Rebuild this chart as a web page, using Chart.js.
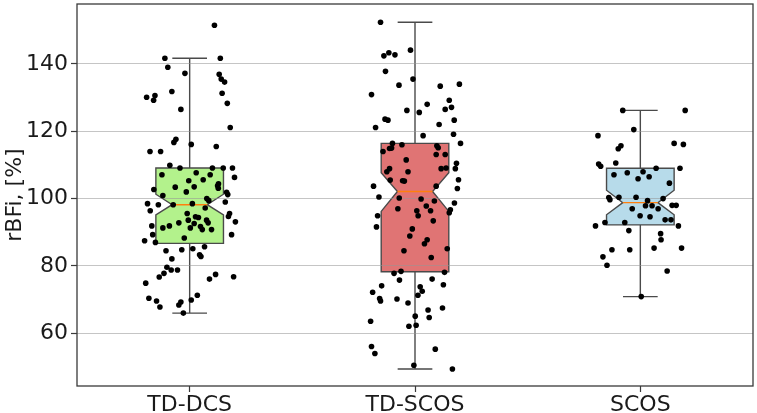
<!DOCTYPE html>
<html>
<head>
<meta charset="utf-8">
<script src="https://cdn.jsdelivr.net/npm/chart.js@4/dist/chart.umd.min.js"></script>
<style>
  html, body { margin: 0; padding: 0; background: #fff; }
</style>
</head>
<body>
<canvas id="boxChart" width="757" height="413"></canvas>
<script>
// categories and y ticks
const categories = ['TD-DCS', 'TD-SCOS', 'SCOS'];
const yTicks = [60, 80, 100, 120, 140];

// box statistics per category
const whiskerLow  = [66.0, 49.4, 70.9];
const quartile1   = [86.7, 78.3, 92.2];
const notchLow    = [95.2, 96.2, 95.2];
const medians     = [98.2, 102.1, 98.8];
const notchHigh   = [101.3, 107.7, 102.5];
const quartile3   = [109.1, 116.4, 109.0];
const whiskerHigh = [141.7, 152.4, 126.2];

// individual measurements (value + horizontal jitter around the category)
const dcsValues = [151.5, 141.7, 141.7, 139.0, 137.2, 136.9, 135.5, 134.6, 131.8, 131.3,
  130.6, 130.1, 129.2, 128.3, 126.5, 121.1, 117.6, 116.7, 116.1, 115.5,
  114.0, 114.0, 109.9, 109.1, 109.1, 109.1, 109.1, 107.1, 107.7, 107.1,
  106.3, 105.3, 105.6, 103.4, 103.5, 104.4, 103.8, 103.1, 102.7, 102.0,
  101.9, 101.2, 100.9, 100.0, 99.4, 99.0, 98.5, 98.2, 98.2, 98.5,
  97.2, 96.4, 95.6, 95.6, 94.7, 94.6, 94.4, 93.6, 93.6, 92.8,
  93.1, 92.8, 92.6, 91.9, 91.9, 91.3, 91.3, 91.7, 90.8, 90.8,
  89.3, 89.3, 88.3, 87.5, 87.0, 85.7, 84.8, 85.1, 84.5, 83.3,
  82.8, 82.1, 79.6, 78.8, 78.8, 77.8, 77.5, 76.7, 76.1, 76.8,
  74.9, 71.3, 70.4, 69.6, 69.9, 69.3, 68.4, 67.8, 66.0];
const dcsJitter = [0.110, -0.110, 0.136, -0.097, -0.021, 0.131, 0.140, 0.155, -0.079, 0.144,
  -0.154, -0.191, -0.160, 0.167, -0.039, 0.180, -0.061, -0.070, 0.007, 0.118,
  -0.176, -0.129, -0.088, -0.043, 0.101, 0.149, 0.190, -0.123, 0.029, 0.091,
  0.199, -0.004, 0.060, -0.064, 0.020, 0.128, 0.124, 0.127, -0.159, -0.015,
  0.164, 0.169, -0.119, 0.076, 0.085, 0.158, -0.187, -0.139, -0.073, 0.012,
  0.069, -0.175, -0.011, 0.177, 0.172, 0.026, 0.039, -0.006, 0.075, 0.082,
  0.203, -0.048, 0.020, -0.168, -0.090, -0.119, 0.003, 0.048, 0.056, 0.097,
  -0.164, 0.186, -0.024, -0.200, -0.152, 0.066, -0.035, 0.014, -0.105, 0.044,
  0.050, -0.079, -0.101, -0.082, -0.054, -0.114, 0.115, -0.135, 0.088, 0.195,
  -0.195, 0.034, -0.181, -0.147, 0.007, -0.039, -0.048, -0.132, -0.028];

const scosTdValues = [152.4, 142.4, 143.3, 142.7, 144.1, 137.8, 135.5, 133.7, 133.4, 134.0,
  130.9, 129.2, 128.0, 126.5, 127.1, 126.2, 125.6, 123.6, 123.3, 123.3,
  122.0, 121.1, 118.7, 119.1, 116.4, 116.4, 116.0, 114.9, 115.0, 114.0,
  115.7, 115.1, 113.1, 113.1, 111.5, 110.5, 108.9, 108.9, 109.1, 108.9,
  108.0, 108.0, 105.5, 105.3, 105.2, 105.6, 103.0, 103.7, 103.7, 100.5,
  100.2, 99.9, 99.3, 97.8, 96.4, 98.7, 96.7, 95.8, 97.0, 96.4,
  94.9, 94.9, 93.4, 91.6, 91.0, 88.9, 87.8, 86.6, 85.1, 84.5,
  82.5, 77.8, 78.4, 78.1, 75.8, 76.1, 74.1, 74.4, 72.2, 73.8,
  72.5, 71.3, 70.3, 69.6, 70.2, 69.0, 66.9, 67.5, 65.1, 64.7,
  63.6, 62.1, 62.4, 56.1, 54.0, 55.3, 50.5, 49.4];
const scosTdJitter = [-0.153, -0.138, -0.116, -0.089, -0.020, -0.131, -0.009, -0.071, 0.112, 0.197,
  -0.193, 0.152, 0.054, 0.134, 0.162, -0.036, 0.019, -0.133, -0.120, 0.174,
  0.107, -0.175, 0.036, 0.171, 0.202, -0.100, -0.058, -0.113, -0.104, -0.142,
  0.097, 0.103, 0.094, 0.134, -0.039, 0.184, 0.179, 0.116, 0.138, -0.113,
  -0.125, -0.031, -0.110, -0.055, -0.047, 0.193, 0.188, -0.184, 0.094, -0.160,
  -0.070, 0.027, 0.086, 0.050, 0.069, 0.175, 0.157, 0.152, -0.076, 0.008,
  0.014, -0.166, 0.081, -0.171, -0.012, -0.023, 0.054, 0.042, 0.143, -0.049,
  0.072, -0.093, -0.062, 0.131, -0.069, 0.076, -0.148, 0.126, -0.188, 0.023,
  0.032, 0.013, -0.157, -0.153, -0.080, -0.031, 0.058, 0.122, 0.001, 0.063,
  -0.197, -0.027, 0.005, -0.193, -0.178, 0.090, -0.005, 0.166];

const scosValues = [126.2, 126.2, 120.5, 118.7, 115.7, 114.8, 116.4, 116.1, 110.3, 109.6,
  110.6, 109.0, 109.0, 107.1, 107.7, 108.0, 106.5, 105.9, 104.6, 100.3,
  99.7, 100.4, 100.4, 100.0, 99.4, 97.9, 97.9, 97.0, 98.0, 98.0,
  97.0, 94.9, 94.6, 93.7, 93.7, 92.9, 92.9, 91.9, 91.9, 90.5,
  89.6, 87.8, 84.8, 84.8, 85.3, 85.3, 82.7, 80.2, 78.5, 70.9];
const scosJitter = [-0.078, 0.199, -0.029, -0.188, -0.086, -0.098, 0.150, 0.191, -0.185, -0.176,
  -0.109, 0.176, 0.070, -0.117, -0.058, 0.012, 0.039, -0.010, 0.129, -0.140,
  -0.135, -0.095, -0.019, 0.101, 0.032, 0.023, 0.052, 0.079, 0.141, 0.159,
  -0.036, -0.001, 0.043, 0.110, 0.136, -0.069, -0.157, -0.199, 0.169, -0.051,
  0.090, 0.092, -0.126, -0.047, 0.061, 0.183, -0.166, -0.148, 0.119, 0.004];

const groupValues = [dcsValues, scosTdValues, scosValues];
const groupJitter = [dcsJitter, scosTdJitter, scosJitter];

// styles
const boxFills = ['#b3f28c', '#e07474', '#b7dbea'];
const edgeColor = '#4a4a4a';
const medianColor = '#ff7f0e';
const boxHalf = 0.15;     // half box width in x units
const notchHalf = 0.078;  // half width at the notch waist
const capHalf = 0.077;
const fontFamily = '"DejaVu Sans", sans-serif';

// Boxes, notches and whiskers, drawn underneath the grid and points
const boxPlugin = {
  id: 'notchedBoxes',
  beforeDraw(chart) {
    const ctx = chart.ctx;
    const xs = chart.scales.x, ys = chart.scales.y;
    ctx.save();
    ctx.fillStyle = '#fff';
    ctx.fillRect(0, 0, chart.width, chart.height);
    categories.forEach((cat, i) => {
      const pos = i + 1;
      const xl = xs.getPixelForValue(pos - boxHalf);
      const xr = xs.getPixelForValue(pos + boxHalf);
      const nl = xs.getPixelForValue(pos - notchHalf);
      const nr = xs.getPixelForValue(pos + notchHalf);
      const xc = xs.getPixelForValue(pos);
      const yq1 = ys.getPixelForValue(quartile1[i]);
      const yq3 = ys.getPixelForValue(quartile3[i]);
      const ynl = ys.getPixelForValue(notchLow[i]);
      const ynh = ys.getPixelForValue(notchHigh[i]);
      const ymed = ys.getPixelForValue(medians[i]);
      const yh = ys.getPixelForValue(whiskerHigh[i]);
      const yl = ys.getPixelForValue(whiskerLow[i]);

      // whiskers + caps
      ctx.strokeStyle = edgeColor;
      ctx.lineWidth = 1.4;
      ctx.beginPath();
      ctx.moveTo(xc, yq3); ctx.lineTo(xc, yh);
      ctx.moveTo(xc, yq1); ctx.lineTo(xc, yl);
      ctx.moveTo(xs.getPixelForValue(pos - capHalf), yh); ctx.lineTo(xs.getPixelForValue(pos + capHalf), yh);
      ctx.moveTo(xs.getPixelForValue(pos - capHalf), yl); ctx.lineTo(xs.getPixelForValue(pos + capHalf), yl);
      ctx.stroke();

      // notched box
      ctx.beginPath();
      ctx.moveTo(xl, yq1);
      ctx.lineTo(xl, ynl);
      ctx.lineTo(nl, ymed);
      ctx.lineTo(xl, ynh);
      ctx.lineTo(xl, yq3);
      ctx.lineTo(xr, yq3);
      ctx.lineTo(xr, ynh);
      ctx.lineTo(nr, ymed);
      ctx.lineTo(xr, ynl);
      ctx.lineTo(xr, yq1);
      ctx.closePath();
      ctx.fillStyle = boxFills[i];
      ctx.fill();
      ctx.stroke();

      // median
      ctx.strokeStyle = medianColor;
      ctx.beginPath();
      ctx.moveTo(nl, ymed); ctx.lineTo(nr, ymed);
      ctx.stroke();
    });
    ctx.restore();
  },
  afterDraw(chart) {
    const { ctx, chartArea: a } = chart;
    ctx.save();
    ctx.strokeStyle = '#3a3a3a';
    ctx.lineWidth = 1.3;
    ctx.strokeRect(a.left, a.top, a.right - a.left, a.bottom - a.top);
    ctx.restore();
  }
};

const datasets = categories.map((cat, i) => ({
  label: cat,
  data: groupValues[i].map((v, k) => ({ x: i + 1 + groupJitter[i][k], y: v })),
  backgroundColor: '#000',
  borderWidth: 0,
  pointRadius: 2.8
}));

new Chart(document.getElementById('boxChart').getContext('2d'), {
  type: 'scatter',
  data: { datasets },
  options: {
    responsive: false,
    animation: false,
    devicePixelRatio: 1,
    layout: { padding: { top: 2, right: 3, left: 0, bottom: 0 } },
    plugins: { legend: { display: false }, tooltip: { enabled: false } },
    scales: {
      x: {
        type: 'linear',
        min: 0.5,
        max: 3.5,
        afterBuildTicks: s => { s.ticks = categories.map((c, i) => ({ value: i + 1 })); },
        afterFit: s => { s.height = 27; s.paddingLeft = 0; s.paddingRight = 0; },
        grid: { drawOnChartArea: false, tickLength: 6, tickColor: '#3a3a3a', tickWidth: 1.2 },
        border: { display: false },
        ticks: {
          padding: 0,
          color: '#1a1a1a',
          font: { family: fontFamily, size: 22 },
          callback: v => categories[v - 1]
        }
      },
      y: {
        min: 44.35,
        max: 157.8,
        afterBuildTicks: s => { s.ticks = yTicks.map(v => ({ value: v })); },
        afterFit: s => { s.width = 77; s.paddingTop = 0; s.paddingBottom = 0; },
        grid: { color: 'rgba(150,150,150,0.55)', lineWidth: 1, tickLength: 6, tickColor: '#3a3a3a', tickWidth: 1.2 },
        border: { display: false },
        ticks: {
          padding: 3,
          color: '#1a1a1a',
          font: { family: fontFamily, size: 22 }
        },
        title: {
          display: true,
          text: 'rBFi, [%]',
          color: '#1a1a1a',
          font: { family: fontFamily, size: 22 },
          padding: { top: 2, bottom: 0 }
        }
      }
    }
  },
  plugins: [boxPlugin]
});
</script>
</body>
</html>
